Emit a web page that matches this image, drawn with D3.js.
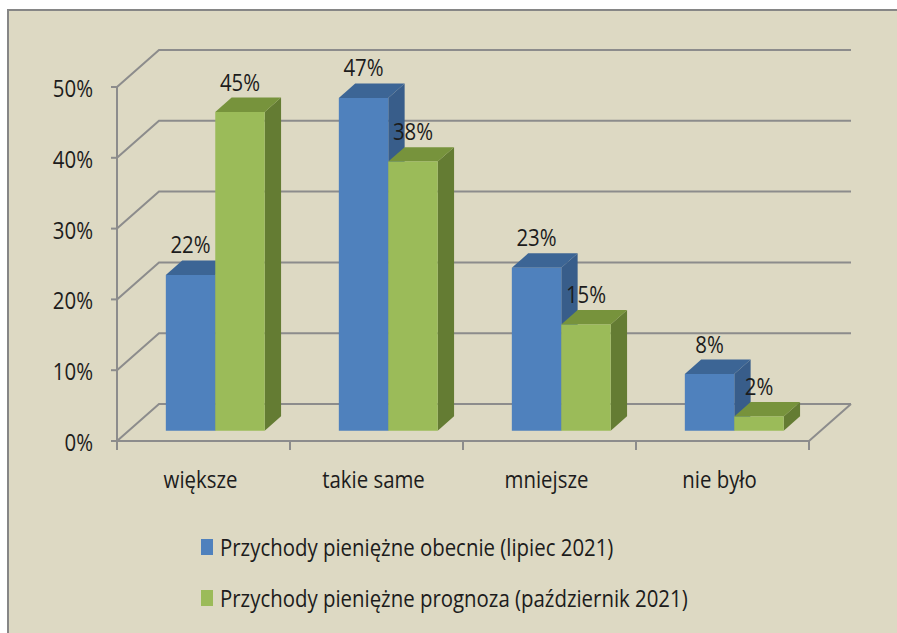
<!DOCTYPE html>
<html>
<head>
<meta charset="utf-8">
<script src="https://cdn.jsdelivr.net/npm/d3@7"></script>
<style>
  html, body { margin: 0; padding: 0; background: #fff; }
  svg { display: block; }
  text { font-family: "Open Sans", sans-serif; fill: #1c1c1c; }
</style>
</head>
<body>
<svg id="chart" width="897" height="633"></svg>
<script>
// dane z wykresu
var categories = ['większe', 'takie same', 'mniejsze', 'nie było'];
var seriesNames = ['Przychody pieniężne obecnie (lipiec 2021)', 'Przychody pieniężne prognoza (październik 2021)'];
var obecnie = [0.22, 0.47, 0.23, 0.08];
var prognoza = [0.45, 0.38, 0.15, 0.02];
var yTicks = [0, 0.1, 0.2, 0.3, 0.4, 0.5];

var W = 897, H = 633;
var colors = [
  {front: '#4f81bd', top: '#3c6595', side: '#385d8a'},
  {front: '#9bbb59', top: '#77933c', side: '#647c33'}
];
var depth = {dx: 42, dy: -37};   // przesunięcie tylnej ściany
var t1 = 0.28, t2 = 0.67;          // głębokość słupka (przód / tył)
var squeeze = 0.85;                // węższa czcionka (jak Calibri)

var svg = d3.select('#chart');

function label(g, px, py, str, anchor, size) {
  return g.append('text')
    .attr('transform', 'translate(' + px + ',' + py + ') scale(' + squeeze + ',1)')
    .attr('text-anchor', anchor || 'start')
    .attr('font-size', size || 24)
    .text(str);
}

// tło + ramka
svg.append('rect').attr('x', 8).attr('y', 10).attr('width', W).attr('height', H)
  .attr('fill', '#ddd9c3').attr('stroke', '#868686').attr('stroke-width', 2);

var x = d3.scaleBand().domain(categories).range([117, 809]).padding(0);
var xs = d3.scaleBand().domain([0, 1]).range([0, x.bandwidth()]).paddingInner(0).paddingOuter(0.75);
var y = d3.scaleLinear().domain([0, 0.5]).range([441, 87]);

function P(px, py, t) { return [px + t * depth.dx, py + t * depth.dy]; }
var x0 = x.range()[0], x1 = x.range()[1];
var grid = svg.append('g').attr('stroke', '#8c8c8c').attr('stroke-width', 2).attr('fill', 'none');

// siatka: lewa ściana + tylna ściana
yTicks.forEach(function(v) {
  var a = P(x0, y(v), 0), b = P(x0, y(v), 1), c = P(x1, y(v), 1);
  grid.append('path').attr('d', d3.line()([a, b, c]));
});
// podłoga
grid.append('path').attr('d', d3.line()([P(x0, y(0), 0), P(x1, y(0), 0), P(x1, y(0), 1)]));

// oś Y
var yAxis = svg.append('g');
yAxis.append('line').attr('x1', x0).attr('x2', x0).attr('y1', y(0.5)).attr('y2', y(0) + 1)
  .attr('stroke', '#8c8c8c').attr('stroke-width', 2);
yTicks.forEach(function(v) {
  yAxis.append('line').attr('x1', x0 - 6).attr('x2', x0).attr('y1', y(v)).attr('y2', y(v))
    .attr('stroke', '#8c8c8c').attr('stroke-width', 2);
  label(yAxis, 93, y(v) + 10, d3.format('.0%')(v), 'end');
});

// oś X
var xAxis = svg.append('g');
var bounds = categories.map(function(c) { return x(c); }).concat([x1]);
bounds.forEach(function(bx) {
  xAxis.append('line').attr('x1', bx).attr('x2', bx).attr('y1', y(0)).attr('y2', y(0) + 9)
    .attr('stroke', '#8c8c8c').attr('stroke-width', 2);
});
xAxis.append('line').attr('x1', x0 - 6).attr('x2', x1).attr('y1', y(0)).attr('y2', y(0))
  .attr('stroke', '#8c8c8c').attr('stroke-width', 2);
categories.forEach(function(c) {
  label(xAxis, x(c) + x.bandwidth() / 2 - 3, 488, c, 'middle');
});

// słupki 3D
var bars = svg.append('g');
var series = [obecnie, prognoza];
categories.forEach(function(c, i) {
  series.forEach(function(vals, s) {
    var v = vals[i];
    var L = x(c) + xs(s), R = L + xs.bandwidth();
    var yt = y(v), yb = y(0);
    var col = colors[s];
    var front = [P(L, yb, t1), P(R, yb, t1), P(R, yt, t1), P(L, yt, t1)];
    var top = [P(L, yt, t1), P(R, yt, t1), P(R, yt, t2), P(L, yt, t2)];
    var side = [P(R, yb, t1), P(R, yb, t2), P(R, yt, t2), P(R, yt, t1)];
    bars.append('path').attr('d', d3.line()(side) + 'Z').attr('fill', col.side);
    bars.append('path').attr('d', d3.line()(top) + 'Z').attr('fill', col.top);
    bars.append('path').attr('d', d3.line()(front) + 'Z').attr('fill', col.front);
  });
});
// etykiety danych
categories.forEach(function(c, i) {
  series.forEach(function(vals, s) {
    var v = vals[i];
    var L = x(c) + xs(s), R = L + xs.bandwidth();
    var p = P((L + R) / 2, y(v), t2);
    var pf = P((L + R) / 2, y(v), t1);
    label(bars, pf[0], p[1] - 7, d3.format('.0%')(v), 'middle');
  });
});

// legenda
var legend = svg.append('g');
seriesNames.forEach(function(n, s) {
  var ly = 547 + s * 51;
  legend.append('rect').attr('x', 201).attr('y', ly - 8).attr('width', 12).attr('height', 16)
    .attr('fill', colors[s].front);
  label(legend, 220, ly + 9, n, 'start');
});
</script>
</body>
</html>
